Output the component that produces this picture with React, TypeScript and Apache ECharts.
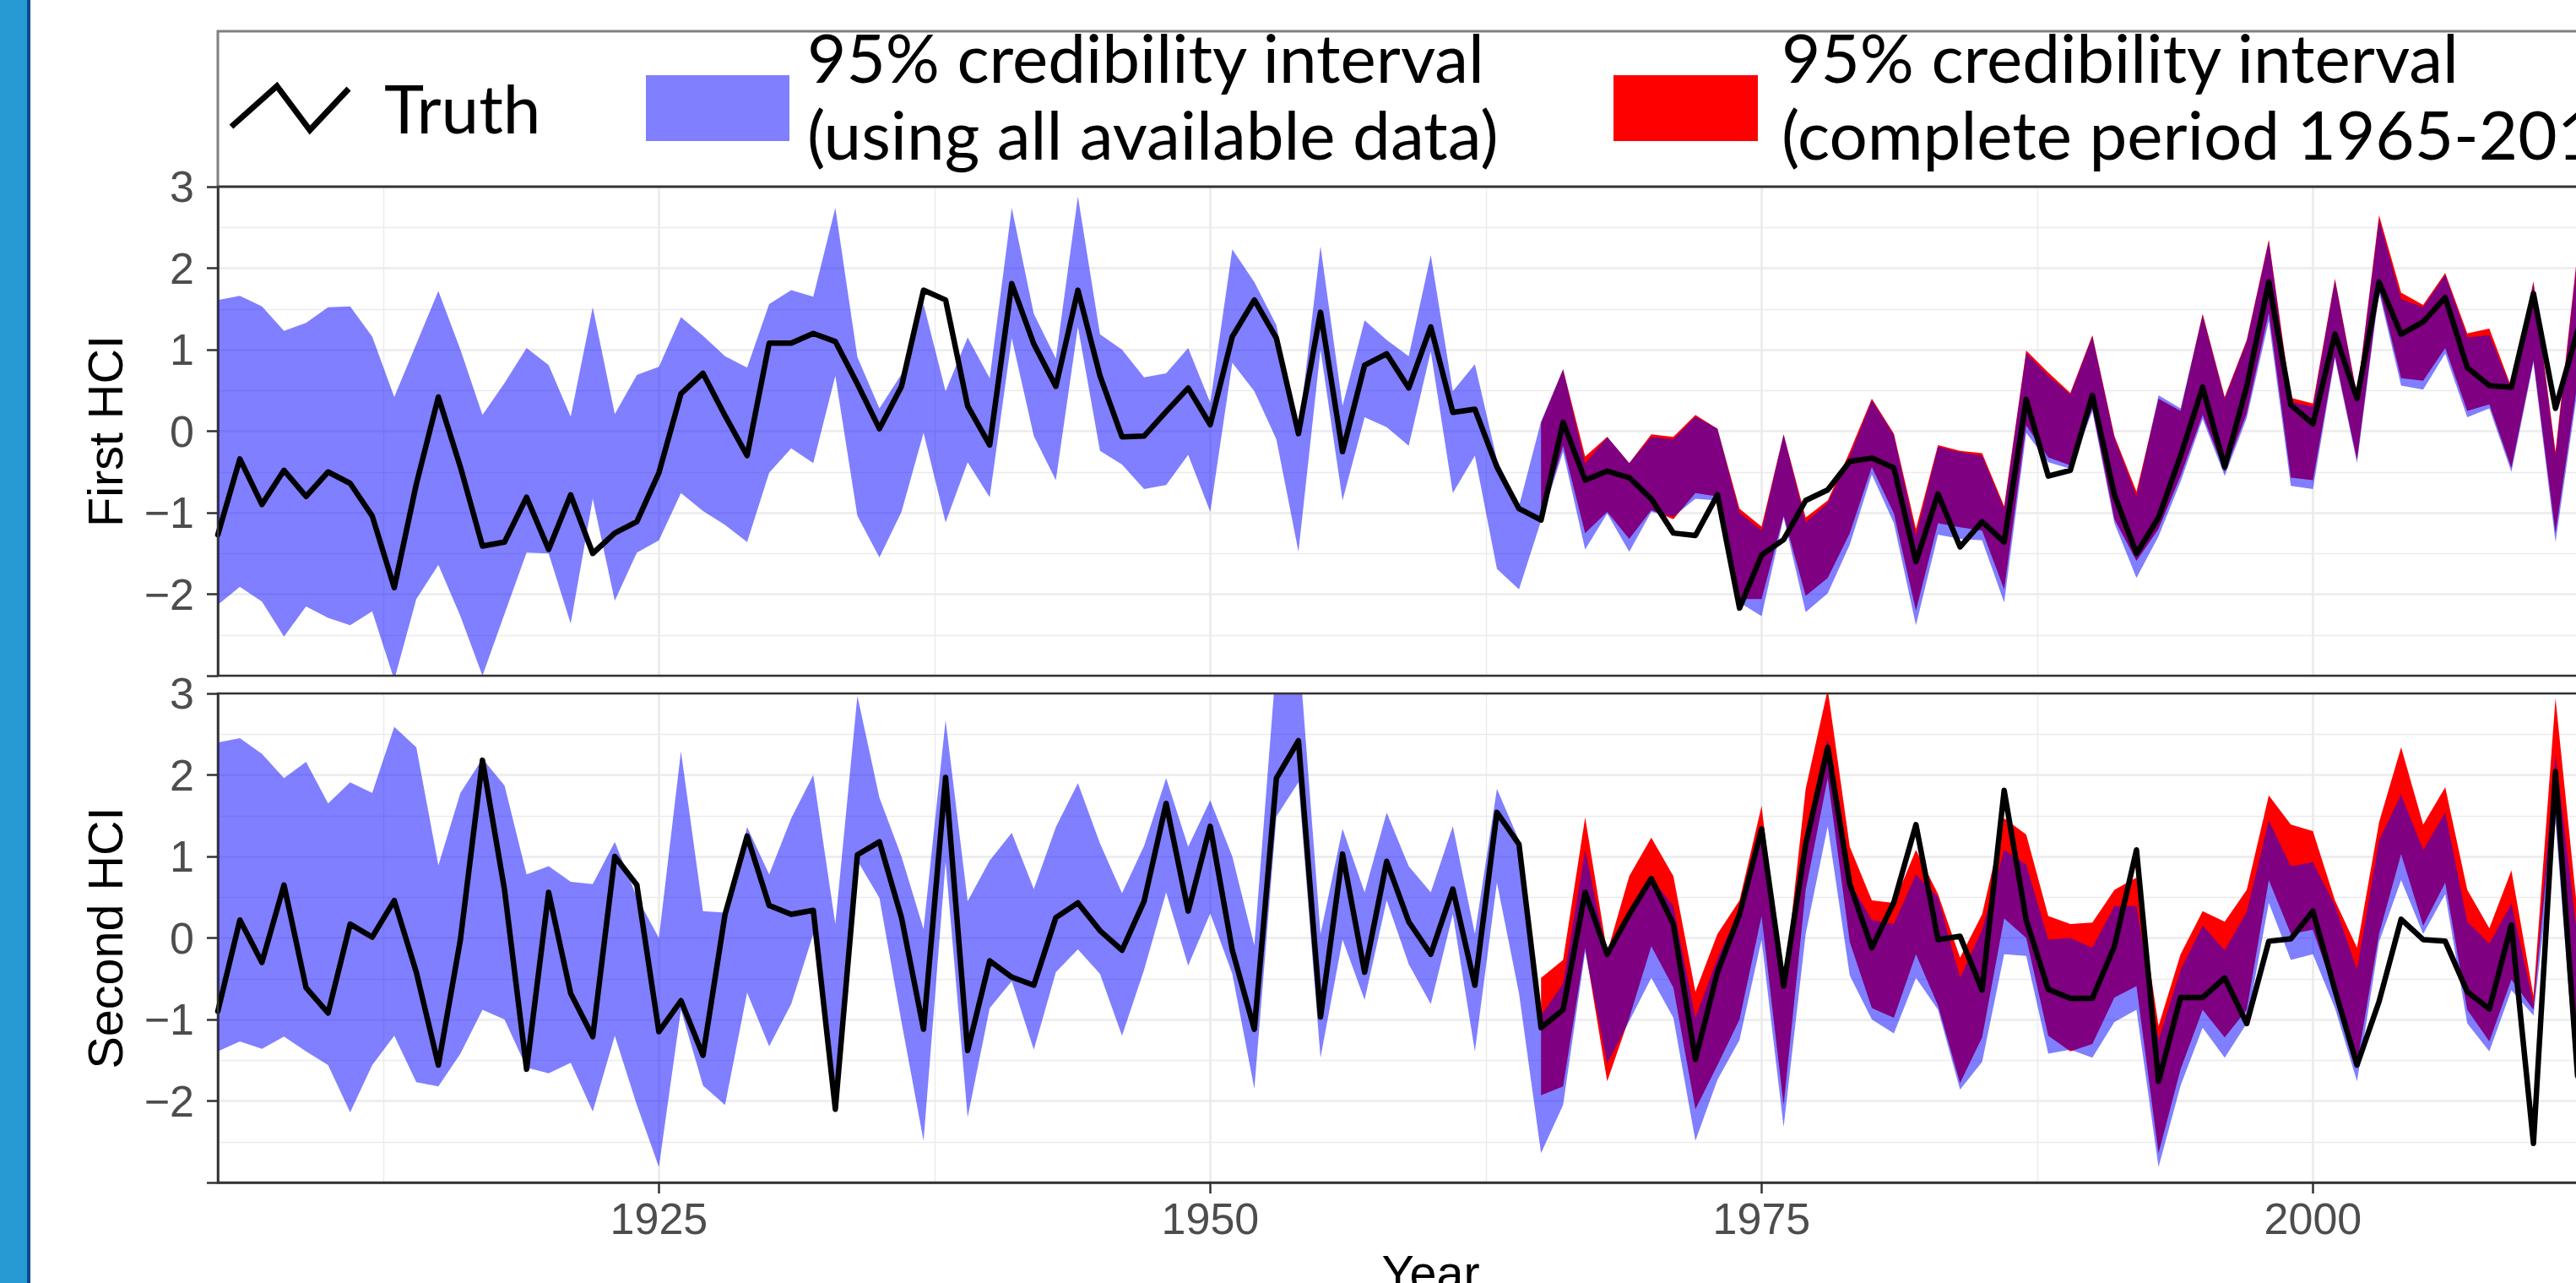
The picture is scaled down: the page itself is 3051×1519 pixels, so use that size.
import React, { useEffect, useRef } from "react";
import * as echarts from "echarts";

// ---------------- data ----------------
const FIRST_YEAR = 1905;
const RED_FIRST_YEAR = 1965;
const X_MIN = 1905;
const X_MAX = 2015;
const MAJOR_YEARS = [1925, 1950, 1975, 2000];
const MINOR_YEARS = [1912.5, 1937.5, 1962.5, 1987.5, 2012.5];

// First HCI (1905..2012)
const truthFirst = [
  -1.27, -0.34, -0.9, -0.48, -0.8, -0.5, -0.64, -1.04, -1.92, -0.65,
  0.42, -0.44, -1.41, -1.36, -0.81, -1.45, -0.78, -1.5, -1.25, -1.11,
  -0.51, 0.46, 0.71, 0.19, -0.3, 1.08, 1.08, 1.2, 1.1, 0.58,
  0.03, 0.55, 1.73, 1.61, 0.31, -0.17, 1.81, 1.07, 0.55, 1.73,
  0.68, -0.07, -0.06, 0.24, 0.53, 0.08, 1.16, 1.61, 1.14, -0.03,
  1.46, -0.25, 0.81, 0.95, 0.53, 1.28, 0.23, 0.27, -0.44, -0.95,
  -1.09, 0.11, -0.6, -0.49, -0.57, -0.83, -1.25, -1.28, -0.78, -2.17,
  -1.52, -1.33, -0.85, -0.72, -0.37, -0.33, -0.45, -1.6, -0.77, -1.42,
  -1.11, -1.36, 0.39, -0.55, -0.48, 0.44, -0.78, -1.5, -1.06, -0.3,
  0.54, -0.44, 0.55, 1.83, 0.32, 0.09, 1.19, 0.4, 1.83, 1.19,
  1.34, 1.64, 0.78, 0.56, 0.54, 1.69, 0.28, 1.23,
];
const blueLowFirst = [
  -2.13, -1.91, -2.09, -2.52, -2.15, -2.29, -2.38, -2.21, -3.05, -2.06,
  -1.64, -2.27, -3.0, -2.24, -1.49, -1.5, -2.36, -0.83, -2.08, -1.49,
  -1.34, -0.76, -0.98, -1.15, -1.36, -0.51, -0.21, -0.39, 0.68, -1.04,
  -1.55, -0.99, -0.02, -1.12, -0.38, -0.81, 1.14, -0.06, -0.6, 1.28,
  -0.24, -0.41, -0.71, -0.66, -0.29, -0.99, 0.84, 0.49, -0.1, -1.48,
  1.0, -0.85, 0.17, 0.05, -0.18, 0.98, -0.76, -0.3, -1.69, -1.94,
  -1.1, -0.25, -1.45, -1.01, -1.48, -0.99, -1.05, -0.83, -0.85, -2.1,
  -2.27, -1.06, -2.22, -1.99, -1.39, -0.53, -1.13, -2.38, -1.27, -1.32,
  -1.34, -2.1, -0.02, -0.38, -0.46, 0.24, -1.13, -1.8, -1.29, -0.62,
  0.15, -0.55, 0.16, 1.35, -0.67, -0.71, 0.89, -0.39, 1.7, 0.56,
  0.51, 0.95, 0.17, 0.28, -0.5, 0.84, -1.36, 0.5,
];
const blueHighFirst = [
  1.61, 1.66, 1.53, 1.23, 1.33, 1.52, 1.53, 1.16, 0.42, 1.07,
  1.72, 1.0, 0.2, 0.59, 1.02, 0.81, 0.18, 1.52, 0.21, 0.69,
  0.79, 1.4, 1.17, 0.92, 0.78, 1.56, 1.73, 1.65, 2.74, 0.91,
  0.28, 0.7, 1.56, 0.49, 1.15, 0.65, 2.74, 1.44, 0.89, 2.88,
  1.19, 1.0, 0.66, 0.71, 1.02, 0.35, 2.23, 1.83, 1.3, -0.03,
  2.27, 0.31, 1.36, 1.12, 0.92, 2.16, 0.49, 0.82, -0.35, -0.92,
  0.12, 0.76, -0.4, -0.07, -0.39, -0.07, -0.1, 0.18, 0.03, -1.0,
  -1.22, -0.04, -1.12, -0.88, -0.3, 0.38, -0.05, -1.28, -0.19, -0.26,
  -0.3, -0.95, 0.96, 0.68, 0.45, 1.16, -0.08, -0.8, 0.44, 0.28,
  1.42, 0.4, 1.1, 2.33, 0.36, 0.3, 1.85, 0.43, 2.6, 1.62,
  1.52, 1.92, 1.15, 1.18, 0.52, 1.82, -0.3, 2.15,
];
// 1965..2012
const redLowFirst = [
  -1.09, -0.18, -1.25, -0.99, -1.32, -0.97, -1.08, -0.76, -0.8, -2.06,
  -2.06, -1.04, -2.02, -1.8, -1.25, -0.44, -1.01, -2.2, -1.13, -1.18,
  -1.22, -1.94, 0.07, -0.32, -0.42, 0.28, -1.08, -1.59, -1.2, -0.55,
  0.2, -0.5, 0.22, 1.45, -0.57, -0.6, 0.92, -0.35, 1.75, 0.65,
  0.62, 1.02, 0.25, 0.33, -0.45, 0.87, -1.25, 0.6,
];
const redHighFirst = [
  0.1, 0.76, -0.31, -0.07, -0.39, -0.04, -0.07, 0.2, 0.03, -0.95,
  -1.17, -0.04, -1.06, -0.85, -0.25, 0.4, -0.03, -1.2, -0.17, -0.24,
  -0.27, -0.92, 0.99, 0.72, 0.47, 1.18, -0.06, -0.74, 0.4, 0.25,
  1.44, 0.42, 1.12, 2.35, 0.41, 0.34, 1.87, 0.45, 2.65, 1.7,
  1.55, 1.94, 1.2, 1.26, 0.54, 1.84, -0.25, 2.2,
];

// Second HCI (1905..2012)
const truthSecond = [
  -0.9, 0.22, -0.3, 0.65, -0.61, -0.92, 0.17, 0.01, 0.46, -0.42,
  -1.56, -0.02, 2.18, 0.59, -1.61, 0.56, -0.68, -1.21, 1.0, 0.65,
  -1.15, -0.77, -1.44, 0.29, 1.25, 0.4, 0.29, 0.34, -2.1, 1.02,
  1.18, 0.25, -1.12, 1.97, -1.38, -0.28, -0.48, -0.58, 0.25, 0.43,
  0.09, -0.15, 0.45, 1.65, 0.33, 1.37, -0.15, -1.12, 1.96, 2.42,
  -0.97, 1.03, -0.42, 0.94, 0.2, -0.2, 0.6, -0.58, 1.54, 1.15,
  -1.1, -0.88, 0.56, -0.2, 0.29, 0.73, 0.17, -1.49, -0.42, 0.29,
  1.34, -0.59, 1.15, 2.34, 0.66, -0.12, 0.44, 1.39, -0.02, 0.02,
  -0.64, 1.81, 0.22, -0.63, -0.74, -0.74, -0.1, 1.08, -1.76, -0.73,
  -0.73, -0.49, -1.05, -0.04, -0.01, 0.33, -0.64, -1.56, -0.78, 0.23,
  -0.02, -0.04, -0.66, -0.87, 0.16, -2.52, 2.04, -1.69,
];
const blueLowSecond = [
  -1.39, -1.27, -1.36, -1.21, -1.39, -1.56, -2.14, -1.56, -1.2, -1.77,
  -1.82, -1.42, -0.88, -1.0, -1.59, -1.66, -1.53, -2.13, -1.2, -2.05,
  -2.81, -0.88, -1.81, -2.05, -0.67, -1.33, -0.81, 0.05, -2.15, 0.95,
  0.49, -1.03, -2.49, 0.93, -2.2, -0.86, -0.53, -1.37, -0.42, -0.14,
  -0.44, -1.2, -0.39, 0.56, -0.34, 0.3, -0.44, -1.85, 1.49, 1.91,
  -1.47, -0.02, -0.76, 0.46, -0.32, -0.81, 0.29, -1.39, 0.68, -0.68,
  -2.64, -2.05, -0.17, -1.54, -1.02, -0.49, -0.98, -2.49, -1.74, -1.25,
  -0.02, -2.32, 0.05, 1.37, -0.46, -1.0, -1.17, -0.49, -0.88, -1.86,
  -1.52, -0.2, -0.22, -1.42, -1.37, -1.47, -1.03, -0.88, -2.81, -1.81,
  -1.1, -1.47, -1.05, 0.43, -0.27, -0.2, -0.86, -1.76, -0.05, 0.71,
  0.05, 0.54, -1.05, -1.39, -0.64, -0.95, 1.42, -2.0,
];
const blueHighSecond = [
  2.4, 2.45, 2.26, 1.96, 2.16, 1.65, 1.91, 1.78, 2.59, 2.34,
  0.89, 1.78, 2.2, 1.87, 0.78, 0.88, 0.69, 0.66, 1.18, 0.5,
  0.0, 2.29, 0.33, 0.31, 1.36, 0.78, 1.47, 2.0, 0.17, 2.97,
  1.72, 1.0, 0.11, 2.67, 0.45, 0.95, 1.29, 0.6, 1.36, 1.9,
  1.16, 0.55, 1.13, 1.96, 1.12, 1.69, 1.0, -0.09, 3.4, 3.6,
  0.05, 1.34, 0.56, 1.54, 0.88, 0.56, 1.37, 0.05, 1.83, 1.2,
  -0.95, -0.56, 1.08, -0.22, 0.29, 0.74, 0.39, -0.98, -0.25, 0.35,
  1.34, -0.64, 1.17, 2.44, 0.68, 0.22, 0.17, 0.78, 0.5, -0.49,
  0.1, 1.08, 0.9, -0.02, 0.0, -0.12, 0.39, 0.39, -1.25, -0.39,
  0.15, -0.15, 0.32, 1.44, 0.88, 0.93, 0.4, -0.39, 1.2, 1.76,
  1.08, 1.54, 0.2, -0.07, 0.42, -0.8, 2.25, 0.0,
];
// 1965..2012
const redLowSecond = [
  -1.93, -1.82, -0.12, -1.76, -0.98, -0.1, -0.61, -2.1, -1.56, -1.0,
  0.27, -2.05, 0.59, 1.96, -0.05, -0.86, -0.98, -0.2, -0.83, -1.78,
  -1.22, 0.24, 0.0, -1.2, -1.39, -1.3, -0.73, -0.59, -2.64, -1.61,
  -0.88, -1.22, -0.88, 0.71, 0.05, 0.1, -0.68, -1.54, 0.05, 1.03,
  0.15, 0.68, -0.88, -1.27, -0.51, -0.88, 1.96, -1.7,
];
const redHighSecond = [
  -0.49, -0.27, 1.48, -0.18, 0.76, 1.23, 0.76, -0.66, 0.05, 0.46,
  1.62, -0.64, 1.83, 3.05, 1.12, 0.46, 0.43, 1.08, 0.54, -0.24,
  0.29, 1.47, 1.27, 0.27, 0.17, 0.19, 0.59, 0.74, -1.08, -0.2,
  0.33, 0.2, 0.59, 1.75, 1.39, 1.31, 0.46, -0.12, 1.42, 2.34,
  1.39, 1.85, 0.59, 0.12, 0.83, -0.71, 2.94, 0.3,
];

const LEGEND_TRUTH = "Truth";
const LEGEND_BLUE = ["95% credibility interval", "(using all available data)"];
const LEGEND_RED = ["95% credibility interval", "(complete period 1965-2015)"];
const Y_TITLES = ["First HCI", "Second HCI"];
const X_TITLE = "Year";

// ---------------- layout / style ----------------
const CHART_W = 3200;
const CHART_H = 1519;
const GRID_LEFT = 258;
const PX_PER_YEAR = 26.12;
const GRID_W = (X_MAX - X_MIN) * PX_PER_YEAR;
const GRID_TOPS = [221, 821];
const GRID_H = 579;
const AXIS_FONT = "'Liberation Sans', Arial, Helvetica, sans-serif";
const LEGEND_FONT = "Lato, 'Open Sans', sans-serif";
const BORDER = "#333333";
const GRID_LINE = "#EBEBEB";
const TICK_FONT_SIZE = 52;

type Pt = number[];

function clipHalf(points: Pt[], inside: (p: Pt) => boolean, yLine: number): Pt[] {
  const out: Pt[] = [];
  const n = points.length;
  for (let i = 0; i < n; i++) {
    const cur = points[i];
    const prev = points[(i + n - 1) % n];
    const cIn = inside(cur);
    const pIn = inside(prev);
    const cross = (): Pt => {
      const t = (yLine - prev[1]) / (cur[1] - prev[1]);
      return [prev[0] + (cur[0] - prev[0]) * t, yLine];
    };
    if (cIn) {
      if (!pIn) out.push(cross());
      out.push(cur);
    } else if (pIn) {
      out.push(cross());
    }
  }
  return out;
}

function bandSeries(panel: number, name: string, start: number, lo: number[], hi: number[], color: string) {
  const rows = lo.map((v, i) => [start + i, v, hi[i]]);
  return {
    type: "custom",
    name,
    xAxisIndex: panel * 2,
    yAxisIndex: panel,
    data: rows,
    encode: { x: 0, y: [1, 2] },
    silent: true,
    clip: true,
    z: 2,
    renderItem: (params: any, api: any) => {
      if (params.dataIndex !== 0) return null;
      const cs = params.coordSys;
      let pts: Pt[] = [];
      for (let i = 0; i < rows.length; i++) pts.push(api.coord([rows[i][0], rows[i][2]]));
      for (let i = rows.length - 1; i >= 0; i--) pts.push(api.coord([rows[i][0], rows[i][1]]));
      const top = cs.y;
      const bottom = cs.y + cs.height;
      pts = clipHalf(pts, (p) => p[1] >= top, top);
      pts = clipHalf(pts, (p) => p[1] <= bottom, bottom);
      return {
        type: "polygon",
        silent: true,
        shape: { points: pts },
        style: { fill: color, stroke: null },
      };
    },
  };
}

function truthSeries(panel: number, vals: number[]) {
  return {
    type: "line",
    name: "Truth-" + panel,
    xAxisIndex: panel * 2,
    yAxisIndex: panel,
    data: vals.map((v, i) => [FIRST_YEAR + i, v]),
    symbol: "none",
    showSymbol: false,
    silent: true,
    clip: true,
    z: 3,
    lineStyle: { color: "#000000", width: 6.5, join: "round", cap: "round" },
  };
}

function yLabel(v: number) {
  if (v === -3) return "";
  return v < 0 ? "\u2212" + Math.abs(v) : String(v);
}

function buildOption() {
  const grids = GRID_TOPS.map((top) => ({
    left: GRID_LEFT,
    top,
    width: GRID_W,
    height: GRID_H,
    show: true,
    z: 10,
    borderColor: BORDER,
    borderWidth: 2.5,
    backgroundColor: "transparent",
    containLabel: false,
  }));

  const xAxes: any[] = [];
  GRID_TOPS.forEach((_, g) => {
    const bottomPanel = g === 1;
    xAxes.push({
      type: "value",
      gridIndex: g,
      min: X_MIN,
      max: X_MAX,
      position: "bottom",
      axisLine: { show: bottomPanel, onZero: false, lineStyle: { color: BORDER, width: 2.5 } },
      axisTick: {
        show: bottomPanel,
        customValues: MAJOR_YEARS,
        length: 13,
        lineStyle: { color: BORDER, width: 2.5 },
      },
      axisLabel: {
        show: bottomPanel,
        customValues: MAJOR_YEARS,
        fontSize: TICK_FONT_SIZE,
        fontFamily: AXIS_FONT,
        color: "#4D4D4D",
        margin: 17,
        formatter: (v: number) => String(v),
      },
      splitLine: { show: true, lineStyle: { color: GRID_LINE, width: 2.7 } },
    });
    xAxes.push({
      type: "value",
      gridIndex: g,
      min: X_MIN,
      max: X_MAX,
      position: "bottom",
      axisLine: { show: false, onZero: false },
      axisTick: { show: false, customValues: MINOR_YEARS },
      axisLabel: { show: false, customValues: MINOR_YEARS },
      splitLine: { show: true, lineStyle: { color: GRID_LINE, width: 1.4 } },
    });
  });

  const yAxes = GRID_TOPS.map((_, g) => ({
    type: "value",
    gridIndex: g,
    min: -3,
    max: 3,
    interval: 1,
    axisLine: { show: true, onZero: false, lineStyle: { color: BORDER, width: 2.5 } },
    axisTick: { show: true, length: 13, lineStyle: { color: BORDER, width: 2.5 } },
    axisLabel: {
      fontSize: TICK_FONT_SIZE,
      fontFamily: AXIS_FONT,
      color: "#4D4D4D",
      margin: 28,
      formatter: yLabel,
    },
    splitLine: { show: true, lineStyle: { color: GRID_LINE, width: 2.7 } },
    minorTick: { show: false, splitNumber: 2 },
    minorSplitLine: { show: true, lineStyle: { color: GRID_LINE, width: 1.4 } },
  }));

  const series: any[] = [
    bandSeries(0, "red1", RED_FIRST_YEAR, redLowFirst, redHighFirst, "#FF0000"),
    bandSeries(0, "blue1", FIRST_YEAR, blueLowFirst, blueHighFirst, "rgba(0,0,255,0.5)"),
    truthSeries(0, truthFirst),
    bandSeries(1, "red2", RED_FIRST_YEAR, redLowSecond, redHighSecond, "#FF0000"),
    bandSeries(1, "blue2", FIRST_YEAR, blueLowSecond, blueHighSecond, "rgba(0,0,255,0.5)"),
    truthSeries(1, truthSecond),
  ];

  const legendText = (text: string, x: number, y: number) => ({
    type: "text",
    x,
    y,
    z: 6,
    silent: true,
    style: {
      text,
      fontSize: 80,
      fontFamily: LEGEND_FONT,
      fill: "#000000",
      align: "left",
      verticalAlign: "middle",
      textAlign: "left",
      textVerticalAlign: "middle",
    },
  });

  const titleText = (text: string, x: number, y: number, rotation: number) => ({
    type: "text",
    x,
    y,
    rotation,
    z: 6,
    silent: true,
    style: {
      text,
      fontSize: 57.5,
      fontFamily: AXIS_FONT,
      fill: "#000000",
      align: "center",
      verticalAlign: "middle",
      textAlign: "center",
      textVerticalAlign: "middle",
    },
  });

  const graphic: any[] = [
    { type: "rect", z: 30, silent: true, shape: { x: 0, y: 0, width: 32, height: CHART_H }, style: { fill: "#289AD3" } },
    { type: "rect", z: 30, silent: true, shape: { x: 32, y: 0, width: 4, height: CHART_H }, style: { fill: "#0C4A8E" } },
    {
      type: "rect",
      z: 5,
      silent: true,
      shape: { x: GRID_LEFT, y: 37, width: 3100, height: 184 },
      style: { fill: "#FFFFFF", stroke: "#808080", lineWidth: 3 },
    },
    {
      type: "polyline",
      z: 6,
      silent: true,
      shape: { points: [[274, 150], [328, 102], [367, 154], [413, 105]] },
      style: { stroke: "#000000", lineWidth: 7, fill: null },
    },
    legendText(LEGEND_TRUTH, 455, 127),
    { type: "rect", z: 6, silent: true, shape: { x: 765, y: 89, width: 170, height: 78 }, style: { fill: "#8080FF" } },
    legendText(LEGEND_BLUE[0], 956, 67),
    legendText(LEGEND_BLUE[1], 956, 158),
    { type: "rect", z: 6, silent: true, shape: { x: 1911, y: 89, width: 171, height: 78 }, style: { fill: "#FF0000" } },
    legendText(LEGEND_RED[0], 2110, 67),
    legendText(LEGEND_RED[1], 2110, 158),
    titleText(Y_TITLES[0], 125, GRID_TOPS[0] + GRID_H / 2, Math.PI / 2),
    titleText(Y_TITLES[1], 125, GRID_TOPS[1] + GRID_H / 2, Math.PI / 2),
    titleText(X_TITLE, GRID_LEFT + GRID_W / 2, 1507, 0),
  ];

  return {
    animation: false,
    backgroundColor: "#FFFFFF",
    grid: grids,
    xAxis: xAxes,
    yAxis: yAxes,
    series,
    graphic,
  };
}

export default function App() {
  const ref = useRef<HTMLDivElement>(null);
  useEffect(() => {
    if (!ref.current) return;
    const chart = echarts.init(ref.current, undefined, { renderer: "svg" });
    chart.setOption(buildOption() as any);
    return () => chart.dispose();
  }, []);
  return (
    <div
      style={{
        position: "fixed",
        left: 0,
        top: 0,
        width: "100vw",
        height: "100vh",
        overflow: "hidden",
        background: "#FFFFFF",
      }}
    >
      <div ref={ref} style={{ width: CHART_W, height: CHART_H }} />
    </div>
  );
}
